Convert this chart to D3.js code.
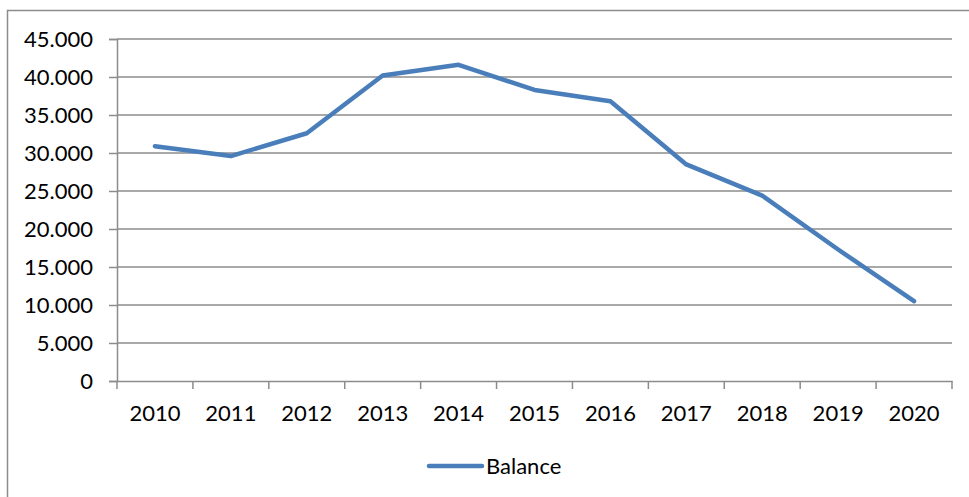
<!DOCTYPE html>
<html>
<head>
<meta charset="utf-8">
<script src="https://cdn.jsdelivr.net/npm/d3@7"></script>
<style>
  body { margin: 0; background: #fff; }
  text { font-family: Lato, "Liberation Sans", Arial, sans-serif; fill: #000; }
</style>
</head>
<body>
<svg></svg>
<script>
const years = ["2010", "2011", "2012", "2013", "2014", "2015", "2016", "2017", "2018", "2019", "2020"];
const balance = [30900, 29600, 32600, 40200, 41600, 38300, 36800, 28500, 24400, 17300, 10500];
const yTicks = [0, 5000, 10000, 15000, 20000, 25000, 30000, 35000, 40000, 45000];
const seriesName = "Balance";

const size = { w: 969, h: 497 };
const margin = { t: 39, r: 17, b: 116, l: 117 };
const font = "Lato, 'Liberation Sans', Arial, sans-serif";
const svg = d3.select("svg").attr("width", size.w).attr("height", size.h);

// outer chart border (runs off right and bottom edge like the screenshot)
svg.append("rect")
  .attr("x", 7.5).attr("y", 10.5)
  .attr("width", size.w + 10).attr("height", size.h + 10)
  .attr("fill", "none").attr("stroke", "#8c8c8c").attr("stroke-width", 1.5);

const x = d3.scaleBand().domain(years).range([margin.l, size.w - margin.r]);
const y = d3.scaleLinear().domain([0, 45000]).range([size.h - margin.b, margin.t]);

const fmt = d => d === 0 ? "0" : d3.format(",")(d).replace(/,/g, ".");

// gridlines
svg.append("g").selectAll("line")
  .data(yTicks.filter(d => d > 0))
  .join("line")
  .attr("x1", margin.l).attr("x2", size.w - margin.r)
  .attr("y1", d => y(d)).attr("y2", d => y(d))
  .attr("stroke", "#8c8c8c").attr("stroke-width", 1.5);

// y axis
const yAxis = svg.append("g")
  .attr("transform", `translate(${margin.l},0)`)
  .call(d3.axisLeft(y).tickValues(yTicks).tickFormat(fmt).tickSize(8).tickPadding(16));
yAxis.select(".domain").attr("stroke", "#8c8c8c").attr("stroke-width", 1.5);
yAxis.selectAll(".tick line").attr("stroke", "#8c8c8c").attr("stroke-width", 1.5);
yAxis.selectAll(".tick text").attr("font-size", 22).attr("dy", "0.36em")
  .style("font-family", font).attr("fill", "#000");

// x axis
const xAxis = svg.append("g")
  .attr("transform", `translate(0,${y(0)})`)
  .call(d3.axisBottom(x).tickSize(0).tickPadding(24));
xAxis.select(".domain").attr("stroke", "#8c8c8c").attr("stroke-width", 1.5);
xAxis.selectAll(".tick text").attr("font-size", 22)
  .style("font-family", font).attr("fill", "#000");
// tick marks between categories
xAxis.append("g").selectAll("line")
  .data(years.concat(["end"]))
  .join("line")
  .attr("x1", (d, i) => i < years.length ? x(d) : x(years[years.length - 1]) + x.bandwidth())
  .attr("x2", (d, i) => i < years.length ? x(d) : x(years[years.length - 1]) + x.bandwidth())
  .attr("y1", 0).attr("y2", 8)
  .attr("stroke", "#8c8c8c").attr("stroke-width", 1.5);

// line
const line = d3.line()
  .x((d, i) => x(years[i]) + x.bandwidth() / 2)
  .y(d => y(d));
svg.append("path")
  .datum(balance)
  .attr("d", line)
  .attr("fill", "none")
  .attr("stroke", "#4a7ebb")
  .attr("stroke-width", 4.5)
  .attr("stroke-linejoin", "round")
  .attr("stroke-linecap", "round");

// legend
const legend = svg.append("g").attr("transform", "translate(429,466)");
legend.append("line")
  .attr("x1", 0).attr("x2", 53).attr("y1", 0).attr("y2", 0)
  .attr("stroke", "#4a7ebb").attr("stroke-width", 4.5).attr("stroke-linecap", "round");
legend.append("text")
  .attr("x", 57).attr("y", 7.5)
  .attr("font-size", 22)
  .style("font-family", font)
  .text(seriesName);
</script>
</body>
</html>
